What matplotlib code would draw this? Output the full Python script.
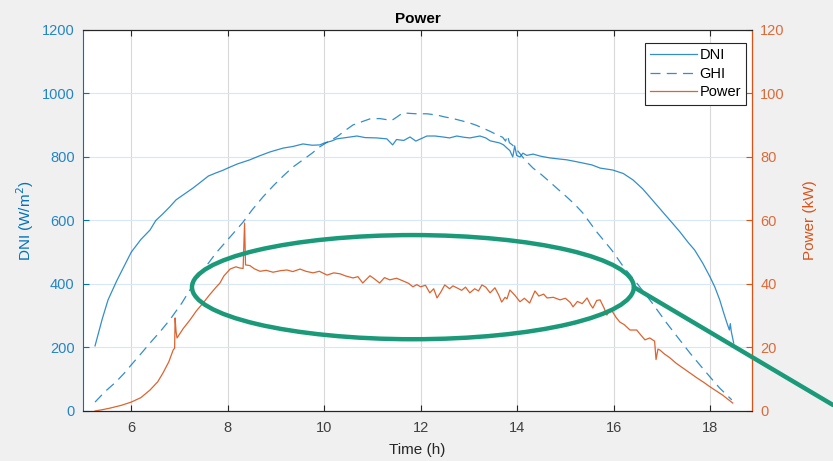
import numpy as np
import matplotlib
matplotlib.use("Agg")
from matplotlib import pyplot as plt
from matplotlib.patches import Ellipse

plt.rcParams['font.family'] = ['Liberation Sans', 'DejaVu Sans']

# DNI (W/m^2)
dni_t = [5.25, 5.40, 5.52, 5.70, 5.85, 6.00, 6.20, 6.39, 6.51, 6.65, 6.80, 6.93, 7.10, 7.28, 7.45,
         7.60, 7.76, 7.90, 8.00, 8.20, 8.46, 8.65, 8.88, 9.15, 9.35, 9.56, 9.75, 9.91, 10.00, 10.15,
         10.26, 10.45, 10.68, 10.85, 11.09, 11.30, 11.42, 11.50, 11.65, 11.78, 11.90, 12.00, 12.13,
         12.30, 12.46, 12.60, 12.75, 12.90, 13.02, 13.23, 13.35, 13.44, 13.64, 13.72, 13.79, 13.85,
         13.91, 13.95, 13.99, 14.06, 14.12, 14.20, 14.33, 14.50, 14.68, 14.85, 15.03, 15.20, 15.36,
         15.55, 15.72, 15.98, 16.20, 16.40, 16.60, 16.75, 17.00, 17.20, 17.37, 17.55, 17.68, 17.85,
         18.00, 18.10, 18.20, 18.28, 18.35, 18.40, 18.42, 18.44, 18.49]
dni = [205, 290, 350, 410, 455, 500, 540, 570, 600, 620, 643, 665, 683, 702, 722,
       740, 750, 758, 765, 778, 791, 803, 816, 828, 833, 841, 837, 838, 844, 850,
       857, 861, 866, 861, 860, 857, 838, 855, 852, 863, 850, 857, 866,
       866, 863, 860, 866, 862, 860, 866, 860, 851, 844, 838, 828, 820,
       800, 835, 805, 800, 812, 805, 809, 802, 797, 794, 791, 786, 781,
       775, 765, 759, 748, 728, 700, 674, 630, 595, 565, 530, 507, 465,
       422, 390, 350, 310, 277, 255, 275, 250, 214]

# GHI (W/m^2)
ghi_t = [5.25, 5.45, 5.68, 5.85, 6.00, 6.20, 6.39, 6.60, 6.80, 7.05, 7.28, 7.50, 7.76, 8.05, 8.32,
         8.50, 8.73, 8.95, 9.15, 9.35, 9.56, 9.75, 9.91, 10.10, 10.26, 10.45, 10.60, 10.80, 10.95,
         11.15, 11.40, 11.50, 11.63, 11.80, 11.92, 12.13, 12.34, 12.50, 12.67, 12.85, 13.02, 13.15,
         13.29, 13.45, 13.58, 13.70, 13.76, 13.80, 13.84, 13.90, 14.00, 14.15, 14.33, 14.50, 14.68,
         14.85, 15.03, 15.20, 15.36, 15.50, 15.65, 15.96, 16.20, 16.48, 16.80, 17.10, 17.35, 17.58,
         17.80, 18.00, 18.20, 18.45]
ghi = [28, 60, 91, 118, 145, 180, 214, 250, 287, 340, 397, 445, 498, 548, 595,
       632, 674, 710, 740, 768, 791, 812, 832, 850, 863, 885, 901, 912, 920,
       921, 915, 925, 939, 937, 936, 936, 932, 926, 921, 914, 907, 900,
       891, 880, 870, 862, 850, 868, 845, 838, 822, 793, 765, 745, 721,
       698, 674, 650, 624, 595, 564, 507, 455, 403, 340, 277, 228, 183,
       143, 107, 72, 35]

# Power (kW)
pow_t = [5.25, 5.40, 5.56, 5.80, 6.00, 6.20, 6.39, 6.55, 6.66, 6.78, 6.87, 6.90, 6.91, 6.93, 6.95,
         7.08, 7.22, 7.35, 7.49, 7.62, 7.76, 7.84, 7.92, 8.05, 8.17, 8.26, 8.32, 8.35, 8.37, 8.46,
         8.55, 8.67, 8.80, 8.94, 9.10, 9.23, 9.35, 9.50, 9.62, 9.77, 9.90, 10.06, 10.20, 10.33,
         10.45, 10.60, 10.70, 10.80, 10.95, 11.05, 11.15, 11.25, 11.36, 11.50, 11.63, 11.75, 11.84,
         11.92, 12.00, 12.10, 12.19, 12.27, 12.34, 12.42, 12.50, 12.60, 12.67, 12.75, 12.85, 12.93,
         13.02, 13.12, 13.20, 13.27, 13.35, 13.44, 13.54, 13.62, 13.68, 13.75, 13.79, 13.85, 13.95,
         14.06, 14.15, 14.26, 14.37, 14.45, 14.55, 14.62, 14.75, 14.89, 15.00, 15.10, 15.16, 15.25,
         15.35, 15.45, 15.52, 15.57, 15.65, 15.72, 15.80, 15.86, 15.93, 15.98, 16.05, 16.13, 16.22,
         16.34, 16.48, 16.56, 16.65, 16.75, 16.85, 16.88, 16.92, 16.96, 17.05, 17.17, 17.30, 17.44,
         17.58, 17.73, 17.87, 18.00, 18.13, 18.26, 18.37, 18.47]
power = [0.0, 0.4, 0.9, 1.8, 2.8, 4.2, 6.6, 9.2, 12.0, 15.5, 19.2, 19.8, 29.3, 25.0, 23.0,
         26.0, 28.7, 31.5, 34.0, 36.5, 39.0, 40.3, 42.5, 44.7, 45.4, 45.0, 44.9, 59.2, 46.0, 45.8,
         44.8, 44.0, 44.3, 43.7, 44.2, 44.4, 43.9, 44.7, 44.0, 43.5, 44.0, 42.8, 43.5, 43.2,
         42.5, 41.9, 42.3, 40.3, 42.6, 41.5, 40.3, 42.0, 41.3, 41.8, 41.0, 40.2, 39.1,
         39.8, 39.1, 39.6, 37.2, 38.5, 35.6, 37.5, 39.7, 38.5, 39.4, 38.8, 38.0, 39.0,
         37.2, 38.5, 37.8, 39.7, 39.0, 37.2, 38.8, 36.5, 34.3, 35.8, 35.3, 38.1, 36.5,
         34.4, 35.5, 34.0, 37.8, 36.2, 36.8, 35.6, 35.8, 35.0, 35.5, 34.2, 32.8, 34.5,
         33.8, 35.6, 33.5, 32.4, 34.8, 35.0, 32.5, 30.2, 31.8, 31.2, 29.5, 28.0, 27.2,
         25.5, 25.5, 24.0, 22.4, 23.0, 22.0, 16.2, 19.5, 19.2, 18.0, 16.7, 15.0, 13.5,
         12.0, 10.4, 9.0, 7.6, 6.3, 5.0, 3.7, 2.5]

blue = '#0072BD'
orange = '#D95319'
green = '#1a9a78'
axcol = '#262626'

fig = plt.figure(figsize=(8.33, 4.61), dpi=100, facecolor='#f0f0f0')
ax = fig.add_axes([0.0996, 0.1085, 0.8032, 0.8265])
ax2 = ax.twinx()

l1, = ax.plot(dni_t, dni, color=blue, lw=0.9, alpha=0.8, label='DNI')
l2, = ax.plot(ghi_t, ghi, color=blue, lw=0.9, alpha=0.8, label='GHI')
l2.set_dashes((8, 5))
l3, = ax2.plot(pow_t, power, color=orange, lw=0.9, alpha=0.9, label='Power')

ax.set_xlim(5, 18.87)
ax.set_ylim(0, 1200)
ax2.set_ylim(0, 120)
ax.set_xticks([6, 8, 10, 12, 14, 16, 18])
ax.set_yticks(range(0, 1201, 200))
ax2.set_yticks(range(0, 121, 20))

ax.grid(axis='x', color='#d9d9d9', lw=0.8)
ax.grid(axis='y', color='#d8e7f5', lw=0.8)
ax.set_axisbelow(True)

ax.tick_params(axis='x', direction='in', colors=axcol, labelsize=10.5, length=4, top=True, pad=7)
ax.tick_params(axis='y', direction='in', colors=blue, labelsize=10.5, length=4, pad=6)
ax2.tick_params(axis='y', direction='in', colors=orange, labelsize=10.5, length=4, pad=6)
for lab in ax.get_xticklabels():
    lab.set_color('#404040')
for lab in ax.get_yticklabels():
    lab.set_alpha(0.85)
for lab in ax2.get_yticklabels():
    lab.set_alpha(0.85)

ax.spines['left'].set_color(blue)
ax.spines['top'].set_color(axcol)
ax.spines['bottom'].set_color(axcol)
ax2.spines['left'].set_visible(False)
ax2.spines['right'].set_color(orange)
ax2.spines['top'].set_color(axcol)
ax2.spines['bottom'].set_color(axcol)

ax.set_xlabel('Time (h)', fontsize=11, color='#262626', labelpad=6)
ax.set_ylabel('DNI (W/m$^2$)', fontsize=11, color=blue, labelpad=4)
ax2.set_ylabel('Power (kW)', fontsize=11, color=orange, labelpad=13)
ax.set_title('Power', fontsize=11, fontweight='bold', color='#000000', pad=5)

leg = ax2.legend(handles=[l1, l2, l3], loc='upper right', fontsize=10.5, frameon=True,
                 fancybox=False, edgecolor='#262626', framealpha=1, handlelength=3.2,
                 bbox_to_anchor=(0.8956, 0.9067), bbox_transform=fig.transFigure,
                 borderaxespad=0, labelspacing=0.32, handletextpad=0.2, borderpad=0.35)
leg.get_frame().set_linewidth(0.8)

# annotation: ellipse round the power plateau with a leader line out of the axes
ell = Ellipse((11.84, 39.0), 9.16, 32.8, fill=False, edgecolor=green, lw=3.2, zorder=5)
ax2.add_patch(ell)
ax2.annotate('', xy=(1.0, 0.1215), xycoords='figure fraction',
             xytext=(16.42, 39.0), textcoords='data',
             arrowprops=dict(arrowstyle='-', color=green, lw=3.2, shrinkA=0, shrinkB=0),
             annotation_clip=False, zorder=5)

fig.savefig('out.png', dpi=100, facecolor=fig.get_facecolor())
